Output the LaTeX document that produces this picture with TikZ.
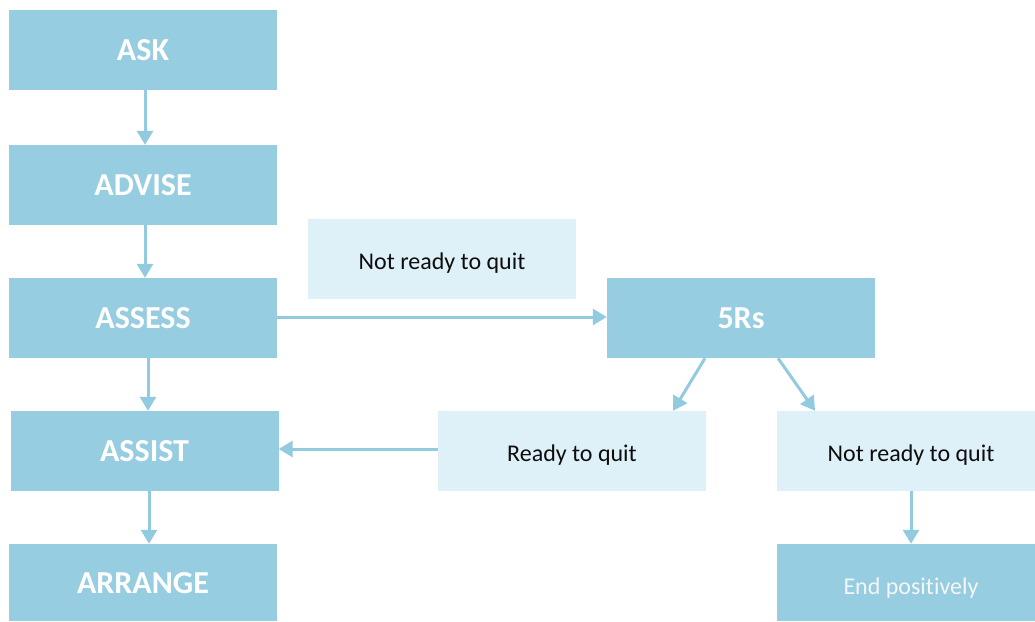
\documentclass[tikz,border=0pt]{standalone}
\usepackage{fontspec}
\setmainfont{Carlito}[Ligatures=NoCommon]
\usetikzlibrary{arrows.meta}
\definecolor{boxdark}{HTML}{96CDE0}
\definecolor{boxlight}{HTML}{DFF1F8}
\definecolor{linkblue}{HTML}{92CBDF}
\definecolor{inktext}{HTML}{0D0D0D}
\definecolor{softwhite}{HTML}{F6F6F6}
\tikzset{
  box/.style={minimum width=268pt, minimum height=80pt, inner sep=0pt,
    text height=20pt, text depth=0pt},
  stage/.style={box, fill=boxdark, text=white,
    font=\fontsize{32}{36}\selectfont\bfseries},
  option/.style={box, fill=boxlight, text=inktext,
    font=\fontsize{24}{28}\selectfont},
  outcome/.style={box, fill=boxdark, minimum height=77pt, text height=23pt,
    text=softwhite, font=\fontsize{24}{28}\selectfont},
  link/.style={draw=linkblue, line width=3pt,
    -{Triangle[length=14pt,width=16pt]}}
}
\begin{document}
\begin{tikzpicture}[x=1pt,y=-1pt]
  \useasboundingbox (0,0) rectangle (1035,621);
  % main five-step column
  \node[stage] (ask)     at (143,50)    {ASK};
  \node[stage] (advise)  at (143,185)   {ADVISE};
  \node[stage] (assess)  at (143,318)   {ASSESS};
  \node[stage] (assist)  at (144.5,451) {ASSIST};
  \node[stage, minimum height=77pt, text height=22pt] (arrange) at (143,582.5) {ARRANGE};
  % readiness branch (right-hand boxes run past the page edge)
  \node[option] (notready1) at (442,259) {Not ready to quit};
  \node[stage]  (fiver)     at (741,318) {5Rs};
  \node[option] (ready)     at (572,451) {Ready to quit};
  \node[option] (notready2) at (911,451) {Not ready to quit};
  \node[outcome] (endpos)   at (911,582.5) {End positively};
  % connectors
  \draw[link] ([xshift=2pt]ask.south) -- ([xshift=2pt]advise.north);
  \draw[link] ([xshift=2pt]advise.south) -- ([xshift=2pt]assess.north);
  \draw[link] ([xshift=5pt]assess.south) -- ([xshift=3.5pt]assist.north);
  \draw[link] ([xshift=4.5pt]assist.south) -- ([xshift=6pt]arrange.north);
  \draw[link] ([yshift=1pt]assess.east) -- ([yshift=1pt]fiver.west);
  \draw[link] ([xshift=-36pt]fiver.south) -- ([xshift=101pt]ready.north);
  \draw[link] ([xshift=37pt]fiver.south) -- ([xshift=-96pt]notready2.north);
  \draw[link] (notready2.south) -- (endpos.north);
  \draw[link] ([yshift=2pt]ready.west) -- ([yshift=2pt]assist.east);
\end{tikzpicture}
\end{document}
